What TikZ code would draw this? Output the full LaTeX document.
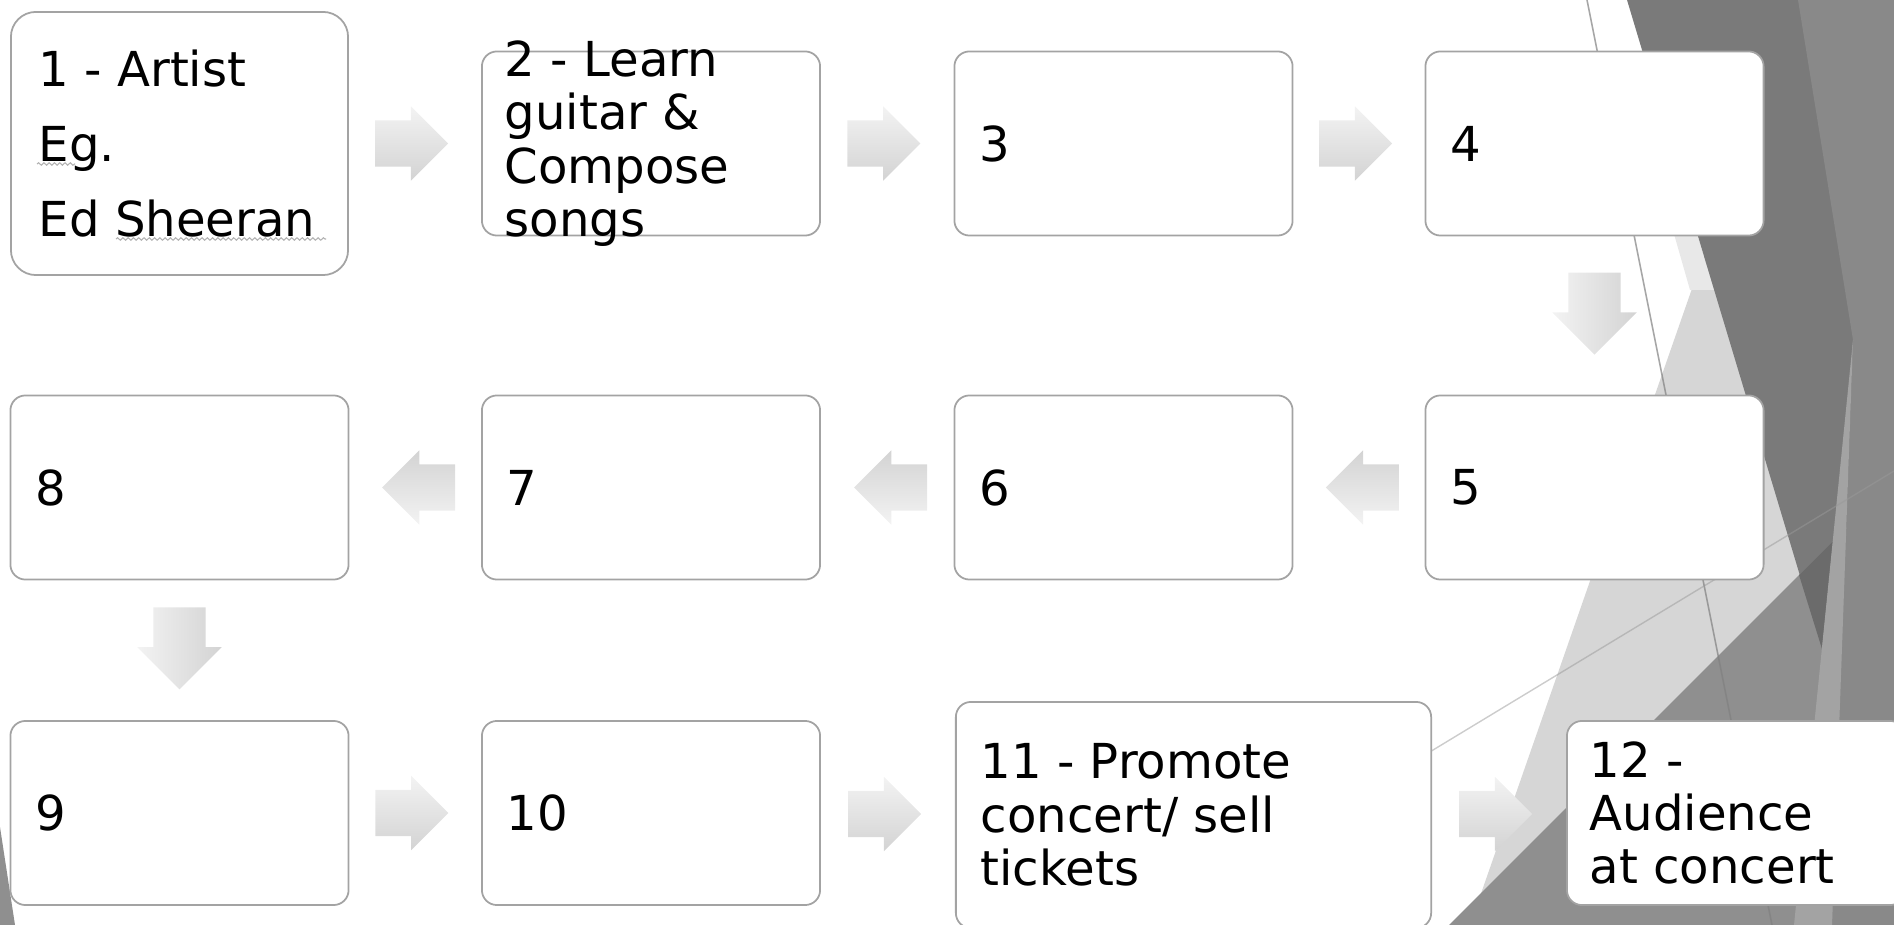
\documentclass[tikz,border=0pt]{standalone}
\usepackage{fontspec}
\setmainfont{DejaVu Sans}
\usetikzlibrary{shapes.arrows,calc,decorations.pathmorphing}

\definecolor{boxline}{HTML}{A3A3A3}
\definecolor{arrowtop}{HTML}{F3F3F3}
\definecolor{arrowbot}{HTML}{D3D3D3}
\definecolor{facetlight}{HTML}{D6D6D6}
\definecolor{facetpale}{HTML}{E8E8E8}
\definecolor{facetdark}{HTML}{7A7A7A}
\definecolor{facetmid}{HTML}{8F8F8F}
\definecolor{facetside}{HTML}{898989}
\definecolor{facetdeep}{HTML}{6B6B6B}
\definecolor{facetstripe}{HTML}{A3A3A3}

\tikzset{
  stepbox/.style={draw=boxline, line width=0.5pt, fill=white, rounded corners=0.15cm,
    minimum width=3.38cm, minimum height=1.84cm, inner sep=0pt},
  steptext/.style={anchor=west, align=left, inner sep=0pt, font=\fontsize{13.7}{15.2}\selectfont},
  flowarrow/.style={single arrow, draw=none, inner sep=0pt, single arrow tip angle=90},
  rarrow/.style={flowarrow, text height=0.225cm, text depth=0.225cm, minimum height=0.73cm,
    single arrow head extend=0.14cm, xshift=-0.15cm, top color=arrowtop, bottom color=arrowbot},
  larrow/.style={flowarrow, text height=0.225cm, text depth=0.225cm, minimum height=0.73cm,
    single arrow head extend=0.14cm, rotate=180, xshift=-0.15cm, top color=arrowbot, bottom color=arrowtop},
  darrow/.style={flowarrow, text height=0.255cm, text depth=0.255cm, minimum height=0.82cm,
    single arrow head extend=0.16cm, rotate=-90, xshift=-0.15cm, left color=arrowtop, right color=arrowbot},
  spell/.style={draw=gray!60, line width=0.3pt, decorate,
    decoration={snake, amplitude=0.35pt, segment length=1.5pt}},
}

\begin{document}
\begin{tikzpicture}[x=0.01cm, y=-0.01cm]
\useasboundingbox (0,0) rectangle (1894,925);
\clip (0,0) rectangle (1894,925);
% facets behind the boxes
\fill[facetlight] (1703,257) -- (1470,925) -- (1894,925) -- (1894,257) -- cycle;
\fill[facetpale] (1650,150) -- (1690,290) -- (1714,290) -- (1672,150) -- cycle;
\fill[facetdark] (1627,0) -- (1894,0) -- (1894,520) -- (1822,649) -- cycle;
\fill[facetmid] (1449,925) -- (1894,480) -- (1894,925) -- cycle;
\fill[facetdeep] (1799,575) -- (1833,541) -- (1822,649) -- cycle;
\fill[facetside] (1798,0) -- (1894,0) -- (1894,925) -- (1832,925) -- (1853,340) -- cycle;
\fill[facetstripe] (1853,340) -- (1832,925) -- (1794,925) -- cycle;
\fill[facetmid] (0,827) -- (15,925) -- (0,925) -- cycle;
\draw[black!50, opacity=0.7, line width=0.45pt] (1587,0) -- (1772,925);
\draw[black!40, opacity=0.5, line width=0.4pt] (1400,770) -- (1894,471);

\node[stepbox, rounded corners=0.25cm, minimum height=2.63cm, minimum width=3.37cm] (s1) at (179.5,143.5) {};
\node[stepbox] (s2) at (651,143.5) {};
\node[stepbox] (s3) at (1123.5,143.5) {};
\node[stepbox] (s4) at (1594.5,143.5) {};
\node[stepbox] (s5) at (1594.5,487.5) {};
\node[stepbox] (s6) at (1123.5,487.5) {};
\node[stepbox] (s7) at (651,487.5) {};
\node[stepbox] (s8) at (179.5,487.5) {};
\node[stepbox] (s9) at (179.5,813) {};
\node[stepbox] (s10) at (651,813) {};
\node[stepbox, minimum width=4.75cm, minimum height=2.26cm] (s11) at (1193.5,815) {};
\node[stepbox] (s12) at (1736,813) {};

\node[steptext, font=\fontsize{13.7}{21.3}\selectfont] (t1) at ($(s1.west)+(28,0)$) {1 - Artist\\Eg.\\Ed Sheeran};
\node[steptext] (t2) at ($(s2.west)+(23,0)$) {2 - Learn\\guitar \&\\Compose\\songs};
\node[steptext] (t3) at ($(s3.west)+(25,0)$) {3};
\node[steptext] (t4) at ($(s4.west)+(25,0)$) {4};
\node[steptext] (t5) at ($(s5.west)+(25,0)$) {5};
\node[steptext] (t6) at ($(s6.west)+(25,0)$) {6};
\node[steptext] (t7) at ($(s7.west)+(25,0)$) {7};
\node[steptext] (t8) at ($(s8.west)+(25,0)$) {8};
\node[steptext] (t9) at ($(s9.west)+(25,0)$) {9};
\node[steptext] (t10) at ($(s10.west)+(25,0)$) {10};
\node[steptext] (t11) at ($(s11.west)+(25,0)$) {11 - Promote\\concert/ sell\\tickets};
\node[steptext] (t12) at ($(s12.west)+(23,0)$) {12 -\\Audience\\at concert};
\draw[spell] (37,164) -- (75,164);
\draw[spell] (116,239) -- (326,239);

\path (s1.east) -- (s2.west) node[rarrow, midway] (a1) {};
\path (s2.east) -- (s3.west) node[rarrow, midway] (a2) {};
\path (s3.east) -- (s4.west) node[rarrow, midway] (a3) {};
\path (s4.south) -- (s5.north) node[darrow, midway] (a4) {};
\path (s5.west) -- (s6.east) node[larrow, midway] (a5) {};
\path (s6.west) -- (s7.east) node[larrow, midway] (a6) {};
\path (s7.west) -- (s8.east) node[larrow, midway] (a7) {};
\path (s8.south) -- (s9.north) node[darrow, midway] (a8) {};
\path (s9.east) -- (s10.west) node[rarrow, midway] (a9) {};
\path (s10.east) -- (s11.west) node[rarrow, midway] (a10) {};
\path (s11.east) -- (s12.west) node[rarrow, midway] (a11) {};
\end{tikzpicture}
\end{document}
